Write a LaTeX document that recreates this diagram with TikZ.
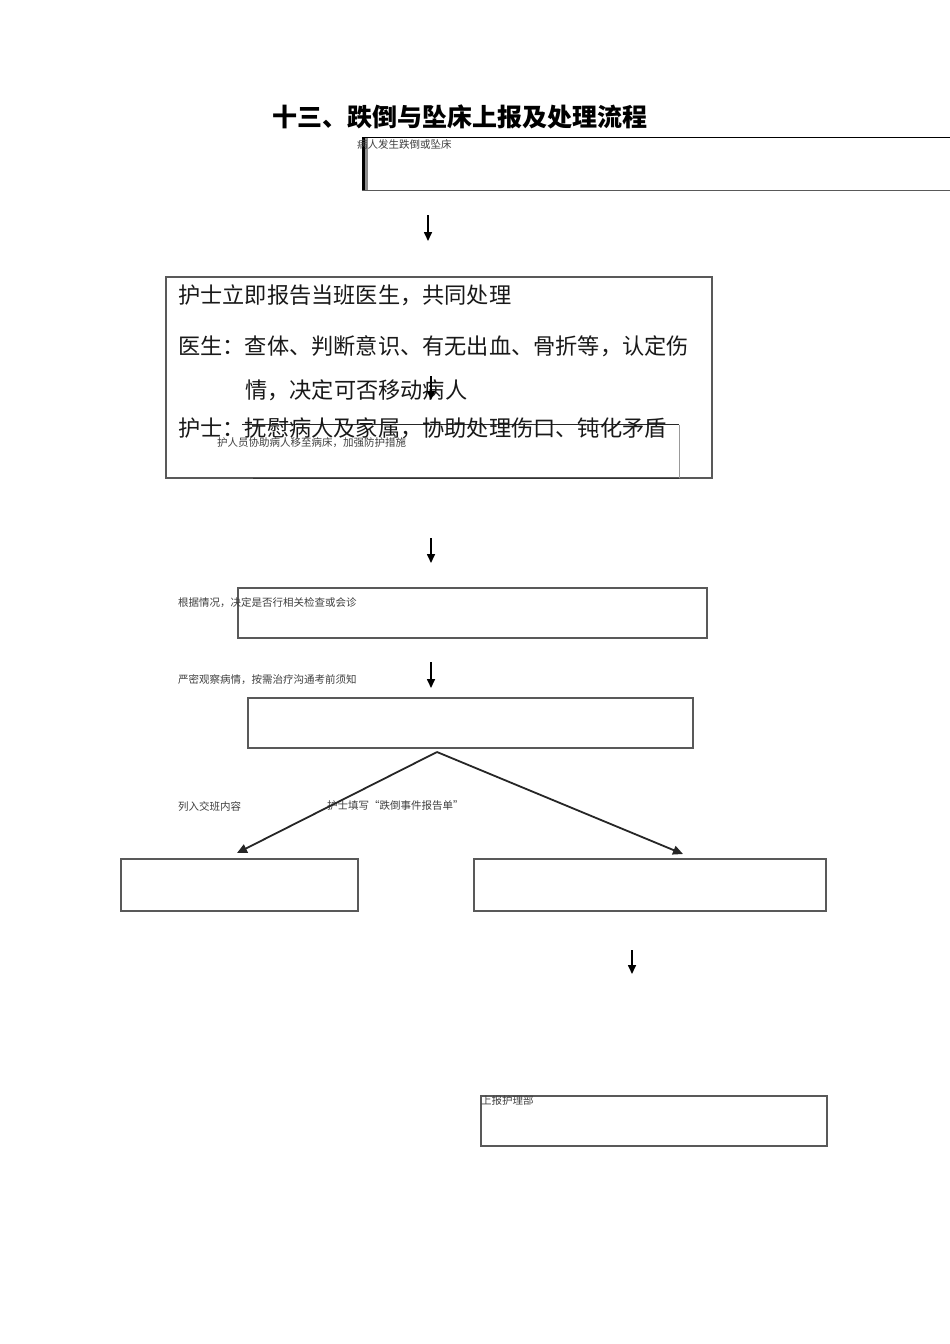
\documentclass[tikz,border=0pt]{standalone}
\usepackage{fontspec}
\setmainfont{Noto Sans CJK SC}
\usetikzlibrary{arrows.meta}
\begin{document}
\begin{tikzpicture}[x=1pt,y=-1pt,
  box/.style={draw=black!65,line width=1.1pt,rectangle,inner sep=0pt},
  ghost/.style={draw=none,rectangle,inner sep=0pt},
  small/.style={inner sep=0pt,anchor=west,text=black!75,font=\fontsize{10.5}{12}\selectfont},
  big/.style={inner sep=0pt,anchor=west,text=black!90,font=\fontsize{22.2}{26}\selectfont},
  arr/.style={-{Triangle[length=9pt,width=8pt]},line width=1.6pt,black},
  darr/.style={-{Triangle[length=10pt,width=9pt]},line width=1.8pt,black!85}
]
\useasboundingbox (0,0) rectangle (950,1344);
\clip (0,0) rectangle (950,1344);
\fill[white] (0,0) rectangle (950,1344);

% title
\node[inner sep=0pt,font=\fontsize{25}{30}\selectfont\bfseries] (title) at (460,117) {十三、跌倒与坠床上报及处理流程};

% top box
\node[ghost,minimum width=598pt,minimum height=52pt] (b1) at (661,164) {};
\draw[black,line width=1.3pt] (b1.north west) -- (b1.north east);
\draw[black!65,line width=1.1pt] (b1.south west) -- (b1.south east);
\draw[black,line width=3pt] ([xshift=1.5pt]b1.north west) -- ([xshift=1.5pt]b1.south west);
\draw[black!45,line width=3pt] ([xshift=4.5pt]b1.north west) -- ([xshift=4.5pt]b1.south west);
\node[small] (t1) at (357,144) {病人发生跌倒或坠床};

% big box
\node[box,minimum width=546pt,minimum height=201pt] (b2) at (439,377.5) {};
\node[big] (l1) at (178,295) {护士立即报告当班医生，共同处理};
\node[big] (l2) at (178,346) {医生：查体、判断意识、有无出血、骨折等，认定伤};
\node[big] (l3) at (245,390) {情，决定可否移动病人};
% inner box
\node[ghost,minimum width=437pt,minimum height=53pt] (b2i) at (460.5,451.5) {};
\draw[black!85,line width=1.2pt] (b2i.north west) -- (b2i.north east);
\draw[black!40,line width=1pt] (b2i.north east) -- (b2i.south east);
\draw[black!80,line width=1.2pt] (b2i.south east) -- ([xshift=11pt]b2i.south west);
\node[big] (l4) at (178,428) {护士：抚慰病人及家属，协助处理伤口、钝化矛盾};
\node[small] (t2) at (217,443) {护人员协助病人移至病床，加强防护措施};

% box 3
\node[box,minimum width=469pt,minimum height=50pt] (b3) at (472.5,613) {};
\node[small] (t3) at (178,603) {根据情况，决定是否行相关检查或会诊};

% box 4
\node[small] (t4) at (178,680) {严密观察病情，按需治疗沟通考前须知};
\node[box,minimum width=445pt,minimum height=50pt] (b4) at (470.5,723) {};

% box 5, 6
\node[box,minimum width=237pt,minimum height=52pt] (b5) at (239.5,885) {};
\node[box,minimum width=352pt,minimum height=52pt] (b6) at (650,885) {};
\node[small] (t5) at (178,806) {列入交班内容};
\node[small] (t6) at (327,806) {护士填写“跌倒事件报告单”};

% box 7
\node[box,minimum width=346pt,minimum height=50pt] (b7) at (654,1121) {};
\node[small] (t7) at (481,1100) {上报护理部};

% arrow coordinates
\coordinate (a1s) at (428,215); \coordinate (a1e) at (428,241);
\coordinate (a2s) at (431,376); \coordinate (a2e) at (431,400);
\coordinate (a3s) at (431,538); \coordinate (a3e) at (431,563);
\coordinate (a4s) at (431,662); \coordinate (a4e) at (431,688);
\coordinate (a5s) at (632,950); \coordinate (a5e) at (632,974);
\coordinate (apex) at (437,752);
\coordinate (dl) at (237,853);
\coordinate (dr) at (683,854);

\draw[arr] (a1s) -- (a1e);
\draw[arr] (a2s) -- (a2e);
\draw[arr] (a3s) -- (a3e);
\draw[arr] (a4s) -- (a4e);
\draw[arr] (a5s) -- (a5e);
\draw[darr] (apex) -- (dl);
\draw[darr] (apex) -- (dr);
\end{tikzpicture}
\end{document}
